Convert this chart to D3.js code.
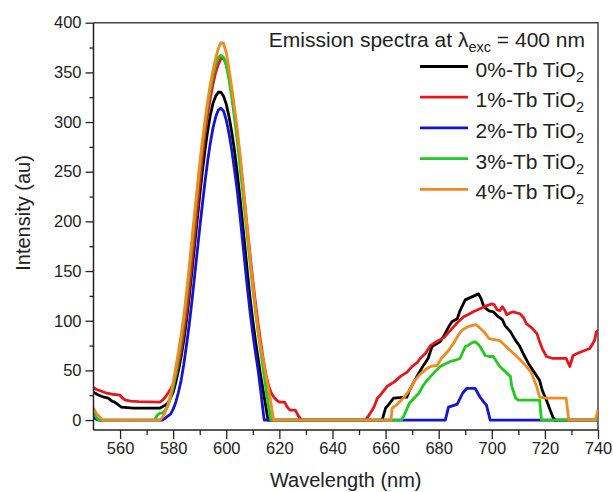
<!DOCTYPE html>
<html><head><meta charset="utf-8">
<script src="https://cdn.jsdelivr.net/npm/d3@7"></script>
<style>body{margin:0;background:#fff}svg{display:block}text{font-family:"Liberation Sans",Arial,sans-serif;fill:#222}</style>
</head><body><svg id="c" width="613" height="492"></svg>
<script>
const xTicks = [560,580,600,620,640,660,680,700,720,740];
const yTicks = [0,50,100,150,200,250,300,350,400];
const seriesNames = ["0%-Tb TiO","1%-Tb TiO","2%-Tb TiO","3%-Tb TiO","4%-Tb TiO"];
const seriesColors = ["#000000","#e8151b","#1414d2","#1ecb1e","#f28a1f"];

const tb0 = [[550,28],[552,25],[554,23],[555.5,22],[557,19],[558,18],[559,16],[560.5,13],[565,12],[575,12],[577,15],[578,17],[579,22],[580,28],[581,38],[582,50],[583,64],[584,80],[585,100],[586,123],[587,148],[588,174],[589,200],[590,226],[591,250],[592,272],[593,291],[594,307],[595,319],[596,326],[597,330],[598,330],[599,326],[600,318],[601,306],[602,291],[603,273],[604,252],[605,228],[606,202],[607,175],[608,148],[609,122],[610,100],[611,80],[612,62],[613,44],[614,28],[615,12],[615.7,0],
[658.7,0],[660,12],[661,15],[663,22],[668,23],[669,30],[671,40],[672,45],[674,54],[676,62],[677.5,74],[680.6,79],[682,85],[684,95],[685,99],[687,102],[688,110],[690,121],[692.5,124],[695,127],[696,122],[697,114],[699,110],[700.6,109],[702,105],[704,101],[705,95],[707,89],[709,80],[710.6,74],[712,66],[713.8,57],[716,48],[718,40],[719,30],[720.6,20],[722,10],[723,3],[723.8,0],[740,0]];

const tb1 = [[550,33],[551,31],[552,30],[553,29],[554,28],[555,27],[557,26],[560,25],[561,22],[562,20],[564,19],[567,18.5],[575,18],[576,20],[577,23],[578,27],[579,31],[580,36],[581,44],[582,56],[583,70],[584,88],[585,108],[586,131],[587,157],[588,184],[589,211],[590,238],[591,265],[592,288],[593,308],[594,324],[595,338],[596,350],[597,358],[598,364],[599,364],[600,358],[601,347],[602,331],[603,312],[604,291],[605,268],[606,243],[607,217],[608,191],[609,166],[610,141],[611,118],[612,97],[613,78],[614,60],[615,45],[616,34],[617,27],[618,23],[619,20],[620,18],[622,18],[623,13],[624,10],[626,10],[627,5],[628,1],[628.5,0],
[652.5,0],[654,6],[655.6,13],[656.9,22],[658,25],[660.6,34],[663,38],[665.6,44],[668,48],[670,54],[672,58],[673,62],[675,67],[676.9,75],[678,77],[680,80],[682,83],[683,86],[685,92],[687,98],[689.4,104],[691,106],[693,109],[695.6,112],[698,115],[700,117],[701,116],[702,111],[703,110],[704,114],[705,110],[705.6,106],[707,108],[708,109],[710.6,107],[712,103],[713,97],[715,93],[717,87],[718,79],[719,72],[720.6,64],[723,62],[728,62],[729.4,54],[730.6,65],[733,68],[736.9,72],[738.7,80],[739.4,89],[740,90]];

const tb2 = [[550,3],[551,1],[552,0],[576,0],[577,2],[578,4],[579,6],[580,11],[581,18],[582,28],[583,40],[584,56],[585,75],[586,95],[587,118],[588,143],[589,168],[590,193],[591,217],[592,240],[593,261],[594,279],[595,294],[596,305],[597,312],[598,314],[599,311],[600,302],[601,289],[602,273],[603,254],[604,234],[605,210],[606,184],[607,158],[608,132],[609,108],[610,87],[611,68],[612,50],[613,29],[614,6],[614.3,0],
[682.5,0],[683.7,13],[686,15],[687,16],[689,27],[690.6,32],[693.7,32],[695.6,23],[697,18],[698,15],[699.4,0],[740,0]];

const tb3 = [[550,7],[551,3],[552,0],[573,0],[574,5],[575,7],[576,7],[577,10],[578,14],[579,22],[580,33],[581,47],[582,63],[583,80],[584,100],[585,122],[586,147],[587,174],[588,201],[589,228],[590,254],[591,277],[592,298],[593,317],[594,333],[595,347],[596,358],[597,365],[598,367],[599,365],[600,357],[601,343],[602,326],[603,306],[604,284],[605,260],[606,235],[607,209],[608,183],[609,157],[610,132],[611,109],[612,88],[613,69],[614,50],[615,31],[616,13],[616.8,0],
[666,0],[667,5],[669,17],[670,20],[672.5,27],[674,34],[675.6,40],[678,47],[680.6,54],[682,56],[684.4,59],[686,60],[688,62],[689,68],[690,74],[691,75],[692,77],[693.7,79],[695,76],[695.6,74],[697.5,65],[699,64],[700.6,64],[702,58],[703,54],[705,49],[707,44],[707.5,34],[709,22],[710,20],[718,20],[718.7,0],[740,0]];

const tb4 = [[550,12],[551,7],[552,4],[553,1],[553.6,0],[575,0],[576,3],[577,8],[578,15],[579,25],[580,38],[581,53],[582,69],[583,86],[584,104],[585,128],[586,153],[587,180],[588,206],[589,232],[590,258],[591,281],[592,302],[593,321],[594,338],[595,352],[596,364],[597,374],[598,380],[599,379],[600,370],[601,354],[602,336],[603,316],[604,296],[605,272],[606,246],[607,218],[608,190],[609,163],[610,137],[611,113],[612,91],[613,73],[614,59],[615,44],[616,31],[617,14],[617.8,0],
[662,0],[662.5,12],[664,15],[667,23],[669,30],[671,40],[673,46],[675.6,52],[677,54],[679.4,55],[681,62],[683.7,70],[686,79],[688,88],[689,91],[691,94],[694,96],[695,94],[697,89],[699,82],[701,81],[703,80],[705,75],[707,70],[709,65],[711,60],[713,54],[715,47],[717,33],[718,23],[720,22],[728,22],[729,0],[739,0],[740,10]];

const allSeries = [tb0, tb1, tb2, tb3, tb4];

const svg = d3.select("#c");
const L = 93.5, R = 598, T = 22.7, B = 430;
const x = d3.scaleLinear().domain([550, 740]).range([L, R]);
const y = d3.scaleLinear().domain([-10, 400]).range([B, T]);

svg.append("defs").append("clipPath").attr("id","clip")
  .append("rect").attr("x",L).attr("y",T).attr("width",R-L).attr("height",B-T);

// frame top/right
svg.append("path").attr("d",`M${L},${T}H${R}V${B}`).attr("fill","none").attr("stroke","#444").attr("stroke-width",1.5);

const line = d3.line().x(d=>x(d[0])).y(d=>y(d[1]));
const g = svg.append("g").attr("clip-path","url(#clip)");
allSeries.forEach((s,i)=>{
  g.append("path").datum(s).attr("d",line).attr("fill","none")
   .attr("stroke",seriesColors[i]).attr("stroke-width",2.8).attr("stroke-linejoin","round");
});

// axes
svg.append("g").attr("transform",`translate(0,${B})`)
  .call(d3.axisBottom(x).tickValues(xTicks).tickSize(9).tickPadding(3).tickFormat(d3.format("d")));
svg.append("g").attr("transform",`translate(0,${B})`)
  .call(d3.axisBottom(x).tickValues(d3.range(570,740,20)).tickSize(5).tickFormat(""))
  .call(a=>a.select(".domain").remove());
svg.append("g").attr("transform",`translate(${L},0)`)
  .call(d3.axisLeft(y).tickValues(yTicks).tickSize(8).tickPadding(4));
svg.append("g").attr("transform",`translate(${L},0)`)
  .call(d3.axisLeft(y).tickValues(d3.range(25,400,50)).tickSize(4).tickFormat(""))
  .call(a=>a.select(".domain").remove());
svg.selectAll(".domain").attr("stroke","#222").attr("stroke-width",1.5).attr("d", function(){
  return this.parentNode.getAttribute("transform").includes(`(0,${B})`) ? `M${L},0H${R}` : `M0,${B}V${T}`;
});
svg.selectAll(".tick line").attr("stroke","#222").attr("stroke-width",1.3);
svg.selectAll(".tick text").style("font-size","16.5px").attr("fill","#2a2a2a").style("font-family","'Liberation Sans',Arial,sans-serif");

// axis titles
svg.append("text").attr("x",(L+R)/2).attr("y",487).attr("text-anchor","middle")
  .style("font-size","20px").text("Wavelength (nm)");
svg.append("text").attr("transform","translate(30,213) rotate(-90)").attr("text-anchor","middle")
  .style("font-size","20px").text("Intensity (au)");

// legend
const lx1 = 420, lx2 = 468, tx = 584;
const title = svg.append("text").attr("x",585).attr("y",47).attr("text-anchor","end").style("font-size","21px");
title.append("tspan").text("Emission spectra at \u03BB");
title.append("tspan").attr("dy",5).style("font-size","14.5px").text("exc");
title.append("tspan").attr("dy",-5).text(" = 400 nm");
seriesNames.forEach((n,i)=>{
  const by = 76.5 + i*30.7;
  svg.append("line").attr("x1",lx1).attr("x2",lx2).attr("y1",by-10).attr("y2",by-10)
    .attr("stroke",seriesColors[i]).attr("stroke-width",2.8);
  const t = svg.append("text").attr("x",tx).attr("y",by).attr("text-anchor","end").style("font-size","21px");
  t.append("tspan").text(n);
  t.append("tspan").attr("dy",5).style("font-size","14.5px").text("2");
});
</script></body></html>
